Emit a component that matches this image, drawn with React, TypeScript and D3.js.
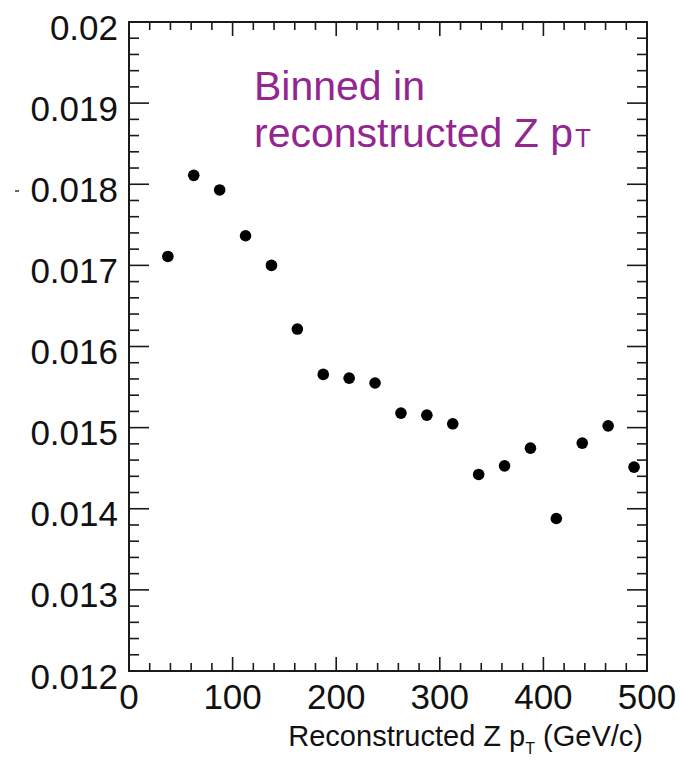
import React from 'react';
import * as d3 from 'd3';

// bin centres (GeV/c) and measured values
const binCenters = [37.5, 62.5, 87.5, 112.5, 137.5, 162.5, 187.5, 212.5, 237.5, 262.5, 287.5, 312.5, 337.5, 362.5, 387.5, 412.5, 437.5, 462.5, 487.5];
const values = [0.01711, 0.01811, 0.01793, 0.017365, 0.0170, 0.016215, 0.015656, 0.01561, 0.01555, 0.015179, 0.015154, 0.015047, 0.014423, 0.014529, 0.014747, 0.01388, 0.014809, 0.015022, 0.014513];

const xTickLabels = ['0', '100', '200', '300', '400', '500'];
const yTickLabels = ['0.012', '0.013', '0.014', '0.015', '0.016', '0.017', '0.018', '0.019', '0.02'];

const W = 682;
const H = 760;
const frame = { left: 129, right: 647, top: 22, bottom: 671 };
const font = '"Liberation Sans", Arial, Helvetica, sans-serif';
const purple = '#93268f';
const ink = '#1a1a1a';

export default function App() {
  const x = d3.scaleLinear().domain([0, 500]).range([frame.left, frame.right]);
  const y = d3.scaleLinear().domain([0.012, 0.02]).range([frame.bottom, frame.top]);

  const xMajor = xTickLabels.map(Number);
  const xMinor = d3.range(0, 501, 20).filter(v => v % 100 !== 0);
  const yMajor = yTickLabels.map(Number);
  const yMinor = d3.range(0, 41).map(i => 0.012 + i * 0.0002).filter(v => Math.abs(v * 1000 - Math.round(v * 1000)) > 1e-6);

  return (
    <svg width={W} height={H} style={{ position: 'absolute', left: 0, top: 0, background: '#fff' }} fontFamily={font}>
      <rect x={0} y={0} width={W} height={H} fill="#fff" />

      {/* ticks on all four sides */}
      <g stroke={ink} strokeWidth={1.6}>
        {xMajor.map(v => (
          <g key={'xM' + v}>
            <line x1={x(v)} x2={x(v)} y1={frame.bottom} y2={frame.bottom - 14} />
            <line x1={x(v)} x2={x(v)} y1={frame.top} y2={frame.top + 14} />
          </g>
        ))}
        {xMinor.map(v => (
          <g key={'xm' + v}>
            <line x1={x(v)} x2={x(v)} y1={frame.bottom} y2={frame.bottom - 8} />
            <line x1={x(v)} x2={x(v)} y1={frame.top} y2={frame.top + 8} />
          </g>
        ))}
        {yMajor.map(v => (
          <g key={'yM' + v}>
            <line x1={frame.left} x2={frame.left + 20} y1={y(v)} y2={y(v)} />
            <line x1={frame.right} x2={frame.right - 20} y1={y(v)} y2={y(v)} />
          </g>
        ))}
        {yMinor.map(v => (
          <g key={'ym' + v}>
            <line x1={frame.left} x2={frame.left + 10} y1={y(v)} y2={y(v)} />
            <line x1={frame.right} x2={frame.right - 10} y1={y(v)} y2={y(v)} />
          </g>
        ))}
      </g>

      <rect x={frame.left} y={frame.top} width={frame.right - frame.left} height={frame.bottom - frame.top}
        fill="none" stroke={ink} strokeWidth={2} />

      {/* y tick labels */}
      <g fontSize={35} fill="#111" textAnchor="end">
        {yTickLabels.map((t, i) => (
          <text key={t} x={frame.left - 11} y={y(yMajor[i]) + 5} dominantBaseline="central">{t}</text>
        ))}
      </g>
      <line x1={15} x2={19} y1={191} y2={191} stroke="#333" strokeWidth={1.5} />

      {/* x tick labels */}
      <g fontSize={35} fill="#111" textAnchor="middle">
        {xTickLabels.map((t, i) => (
          <text key={t} x={x(xMajor[i])} y={709}>{t}</text>
        ))}
      </g>

      {/* x title */}
      <text x={643} y={746} fontSize={29} fill="#111" textAnchor="end">
        Reconstructed Z p<tspan fontSize={16} dy={8}>T</tspan><tspan dy={-8}> (GeV/c)</tspan>
      </text>

      {/* annotation */}
      <g fill={purple} fontSize={41}>
        <text x={254} y={100}>Binned in</text>
        <text x={254} y={147}>
          reconstructed Z p<tspan fontSize={26} dx={2}>T</tspan>
        </text>
      </g>

      {/* data points */}
      <g fill="#000">
        {values.map((v, i) => (
          <circle key={i} cx={x(binCenters[i])} cy={y(v)} r={5.8} />
        ))}
      </g>
    </svg>
  );
}
